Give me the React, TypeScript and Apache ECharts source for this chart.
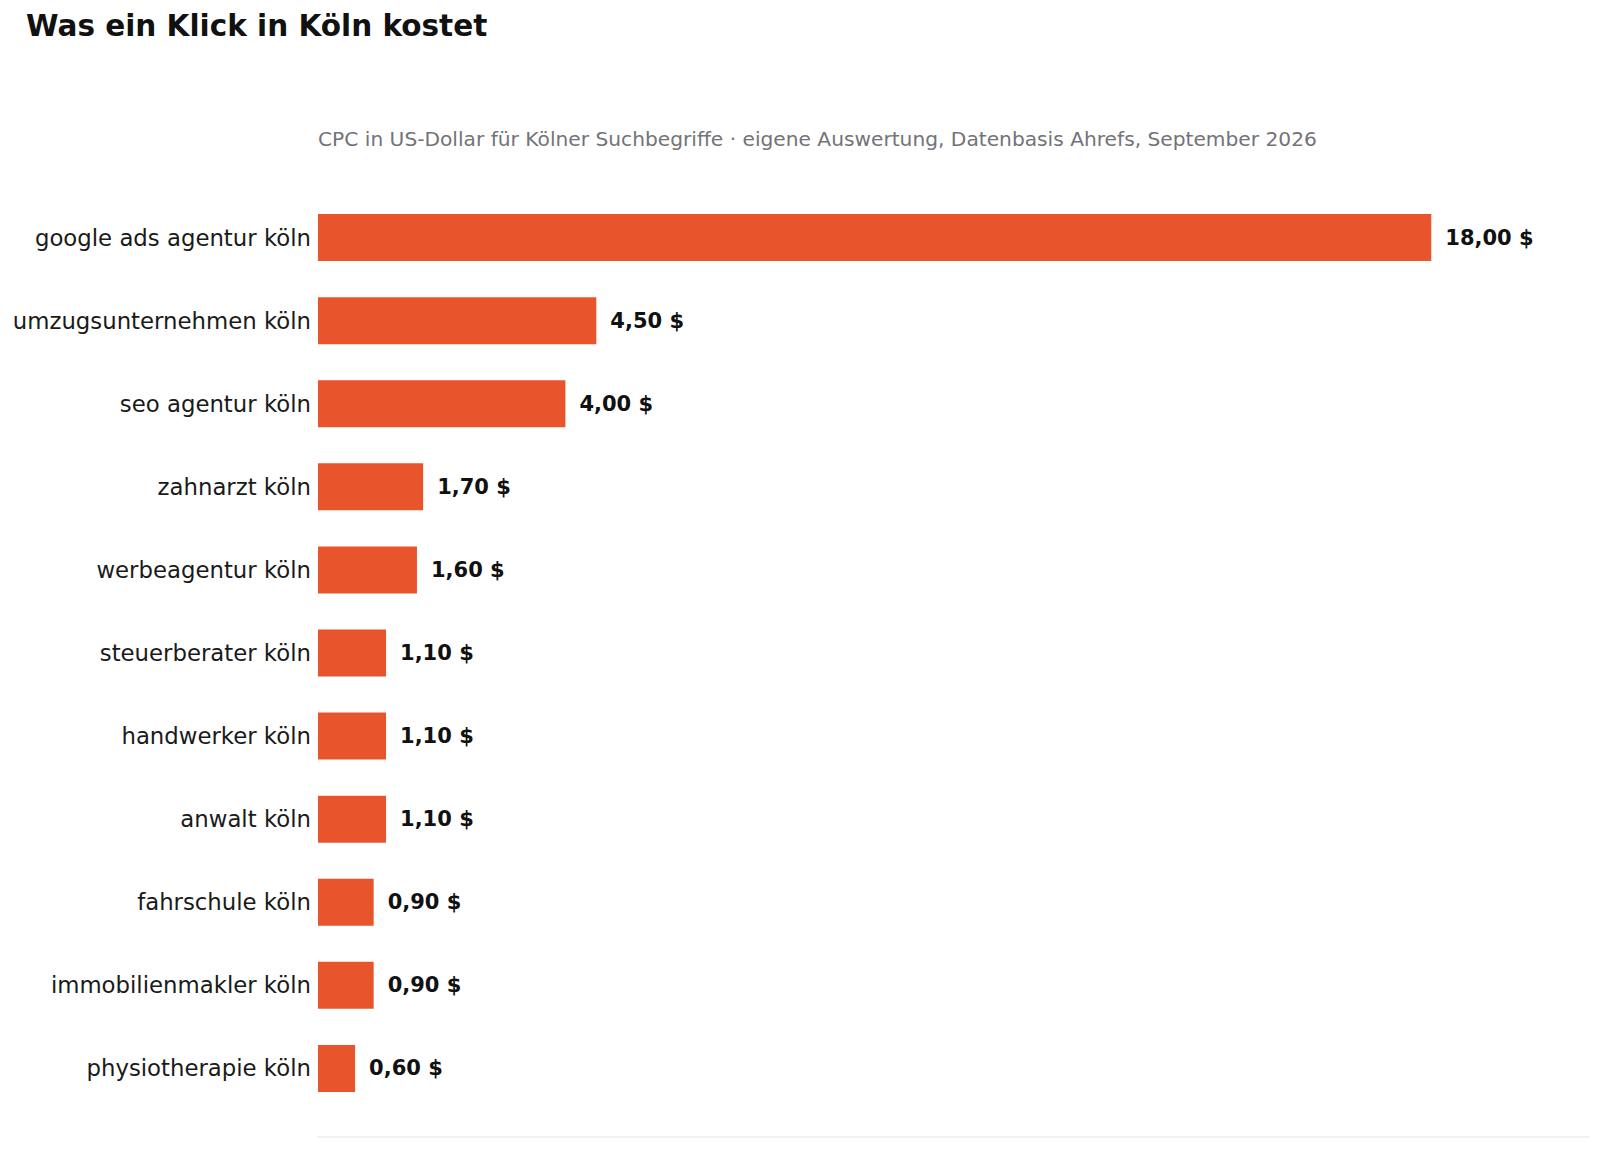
import { useEffect, useRef } from "react"
import * as echarts from "echarts"

const TITLE = "Was ein Klick in Köln kostet"
const SUBTITLE = "CPC in US-Dollar für Kölner Suchbegriffe · eigene Auswertung, Datenbasis Ahrefs, September 2026"

const keywords = [
  "google ads agentur köln",
  "umzugsunternehmen köln",
  "seo agentur köln",
  "zahnarzt köln",
  "werbeagentur köln",
  "steuerberater köln",
  "handwerker köln",
  "anwalt köln",
  "fahrschule köln",
  "immobilienmakler köln",
  "physiotherapie köln",
]

const cpcValues = [18.0, 4.5, 4.0, 1.7, 1.6, 1.1, 1.1, 1.1, 0.9, 0.9, 0.6]

const FONT = "DejaVu Sans"
const BAR_COLOR = "#e8552d"

// German format, no-break space before the dollar sign
const formatUsd = (v: number) => v.toFixed(2).replace(".", ",") + "\u00a0$"

export default function App() {
  const chartRef = useRef<HTMLDivElement>(null)

  useEffect(() => {
    if (!chartRef.current) return
    const chart = echarts.init(chartRef.current, null, { renderer: "svg" })

    chart.setOption({
      animation: false,
      backgroundColor: "#ffffff",
      title: [
        {
          text: TITLE,
          left: 26,
          top: 11,
          padding: 0,
          textStyle: { fontFamily: FONT, fontSize: 29.5, fontWeight: "bold", color: "#111111" },
        },
        {
          text: SUBTITLE,
          left: 318,
          top: 129,
          padding: 0,
          textStyle: { fontFamily: FONT, fontSize: 20.2, fontWeight: "normal", color: "#737378" },
        },
      ],
      grid: { left: 318, right: 11, top: 196, bottom: 40 },
      xAxis: {
        type: "value",
        min: 0,
        max: 20.55,
        offset: 27,
        axisLine: { show: true, lineStyle: { color: "#ebebeb", width: 1.5 } },
        axisTick: { show: false },
        axisLabel: { show: false },
        splitLine: { show: false },
      },
      yAxis: {
        type: "category",
        data: keywords,
        inverse: true,
        axisLine: { show: false },
        axisTick: { show: false },
        axisLabel: { fontFamily: FONT, fontSize: 22.8, color: "#1a1a1a", margin: 7 },
      },
      series: [
        {
          type: "bar",
          data: cpcValues,
          barWidth: 47,
          itemStyle: { color: BAR_COLOR },
          label: {
            show: true,
            position: "right",
            distance: 14,
            formatter: (p: any) => formatUsd(p.value),
            fontFamily: FONT,
            fontSize: 21,
            fontWeight: "bold",
            color: "#111111",
          },
        },
      ],
    })

    const handleResize = () => chart.resize()
    window.addEventListener("resize", handleResize)
    return () => {
      window.removeEventListener("resize", handleResize)
      chart.dispose()
    }
  }, [])

  return (
    <div
      ref={chartRef}
      style={{ position: "absolute", left: 0, top: 0, width: 1600, height: 1150 }}
    />
  )
}
